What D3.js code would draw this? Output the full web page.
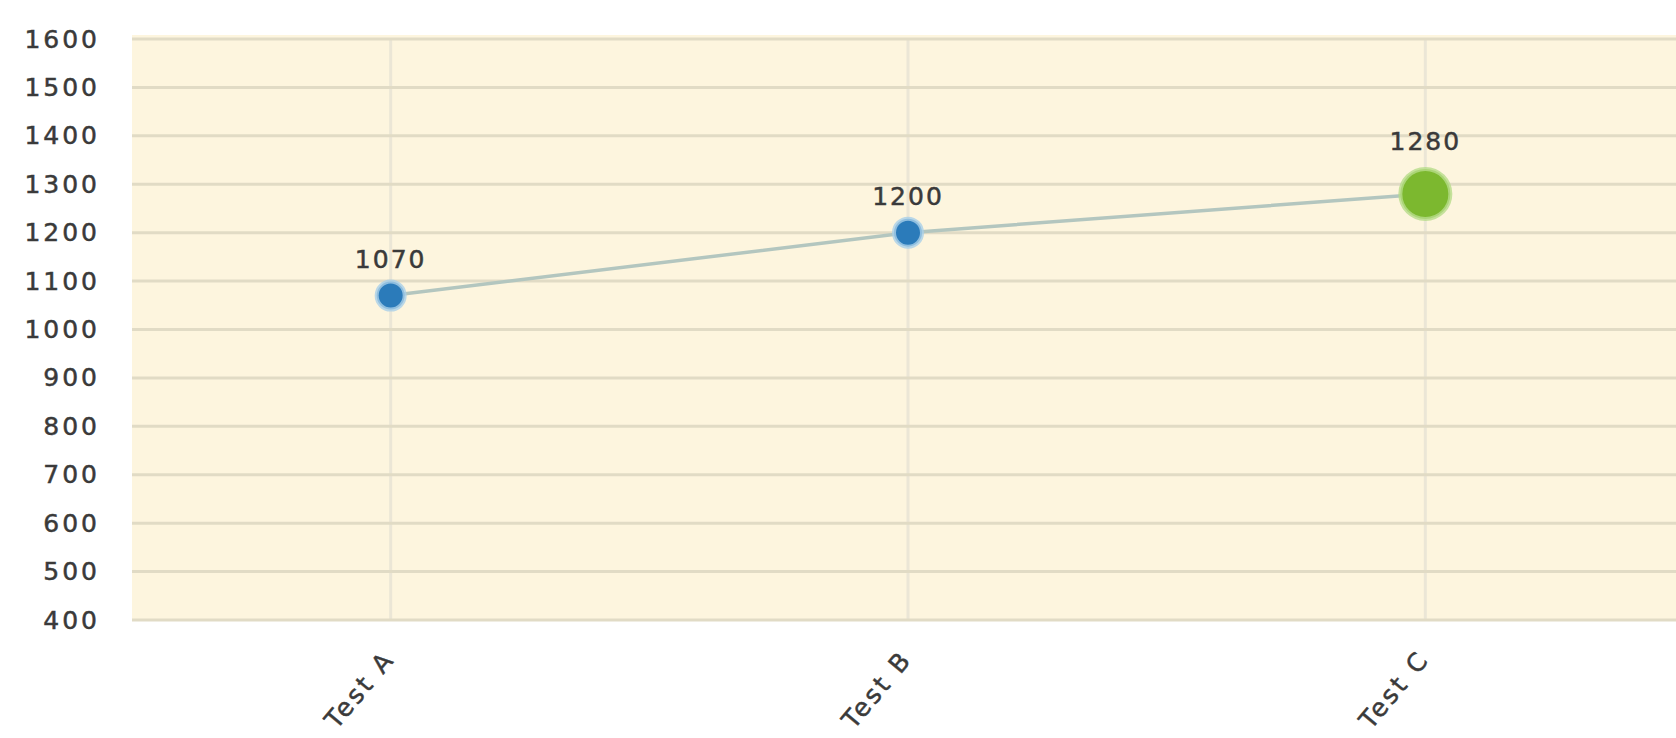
<!DOCTYPE html>
<html>
<head>
<meta charset="utf-8">
<script src="https://cdn.jsdelivr.net/npm/d3@7"></script>
<style>
  body { margin: 0; background: #fff; }
  text { font-family: "DejaVu Sans", sans-serif; fill: #3a3a3a; stroke: #3a3a3a; stroke-width: 0.5px; }
</style>
</head>
<body>
<script>
var svgWidth = 1676;
var svgHeight = 738;

var categories = ["Test A", "Test B", "Test C"];
var values = [1070, 1200, 1280];
var highlight = [false, false, true];
var yTicks = [400, 500, 600, 700, 800, 900, 1000, 1100, 1200, 1300, 1400, 1500, 1600];

var margin = { top: 39, right: -8, bottom: 118, left: 132 };
var width = svgWidth - margin.left - margin.right;
var height = svgHeight - margin.top - margin.bottom;

var svg = d3.select("body")
  .append("svg")
  .attr("width", svgWidth)
  .attr("height", svgHeight);

var g = svg.append("g")
  .attr("transform", `translate(${margin.left}, ${margin.top})`);

var xScale = d3.scalePoint().domain(categories).range([0, width]).padding(0.5);
var yScale = d3.scaleLinear().domain([400, 1600]).range([height, 0]);

// background
g.append("rect")
  .attr("x", 0)
  .attr("y", -4)
  .attr("width", width)
  .attr("height", height + 4)
  .attr("fill", "#fdf5de");

// vertical grid
g.selectAll(".vgrid")
  .data(categories)
  .enter()
  .append("line")
  .attr("x1", d => xScale(d))
  .attr("x2", d => xScale(d))
  .attr("y1", 0)
  .attr("y2", height)
  .attr("stroke", "#ebe6d6")
  .attr("stroke-width", 3);

// horizontal grid
g.selectAll(".hgrid")
  .data(yTicks)
  .enter()
  .append("line")
  .attr("x1", 0)
  .attr("x2", width)
  .attr("y1", d => yScale(d))
  .attr("y2", d => yScale(d))
  .attr("stroke", "#e1dbc5")
  .attr("stroke-width", 3);

// y axis labels
var yAxis = d3.axisLeft(yScale)
  .tickValues(yTicks)
  .tickFormat(d3.format("d"))
  .tickSize(0)
  .tickPadding(32);
var ya = g.append("g").call(yAxis);
ya.select(".domain").remove();
ya.selectAll("text")
  .style("font-size", "25px")
  .style("letter-spacing", "3px")
  .style("font-family", "DejaVu Sans, sans-serif")
  .attr("fill", "#3a3a3a");

// x axis labels
var xAxis = d3.axisBottom(xScale).tickSize(0).tickPadding(0);
var xa = g.append("g")
  .attr("transform", `translate(0, ${height})`)
  .call(xAxis);
xa.select(".domain").remove();
xa.selectAll("text")
  .style("font-size", "25px")
  .style("letter-spacing", "3px")
  .style("font-family", "DejaVu Sans, sans-serif")
  .attr("fill", "#3a3a3a")
  .attr("text-anchor", "end")
  .attr("transform", "translate(-2, 34) rotate(-50)")
  .attr("dy", "0.35em");

// line
var line = d3.line()
  .x((d, i) => xScale(categories[i]))
  .y(d => yScale(d));

g.append("path")
  .datum(values)
  .attr("d", line)
  .attr("fill", "none")
  .attr("stroke", "#b3c6bf")
  .attr("stroke-width", 3.5);

// points
g.selectAll(".pt")
  .data(values)
  .enter()
  .append("circle")
  .attr("cx", (d, i) => xScale(categories[i]))
  .attr("cy", d => yScale(d))
  .attr("r", (d, i) => highlight[i] ? 25 : 14)
  .attr("fill", (d, i) => highlight[i] ? "#7cb82f" : "#2b7bba")
  .attr("stroke", (d, i) => highlight[i] ? "#b6dc8a" : "#a9cfe8")
  .attr("stroke-opacity", 0.8)
  .attr("stroke-width", 4);

// value labels
g.selectAll(".lbl")
  .data(values)
  .enter()
  .append("text")
  .attr("x", (d, i) => xScale(categories[i]))
  .attr("y", (d, i) => yScale(d) - (highlight[i] ? 44 : 28))
  .attr("text-anchor", "middle")
  .style("font-size", "25px")
  .style("letter-spacing", "2px")
  .text(d => d);
</script>
</body>
</html>
